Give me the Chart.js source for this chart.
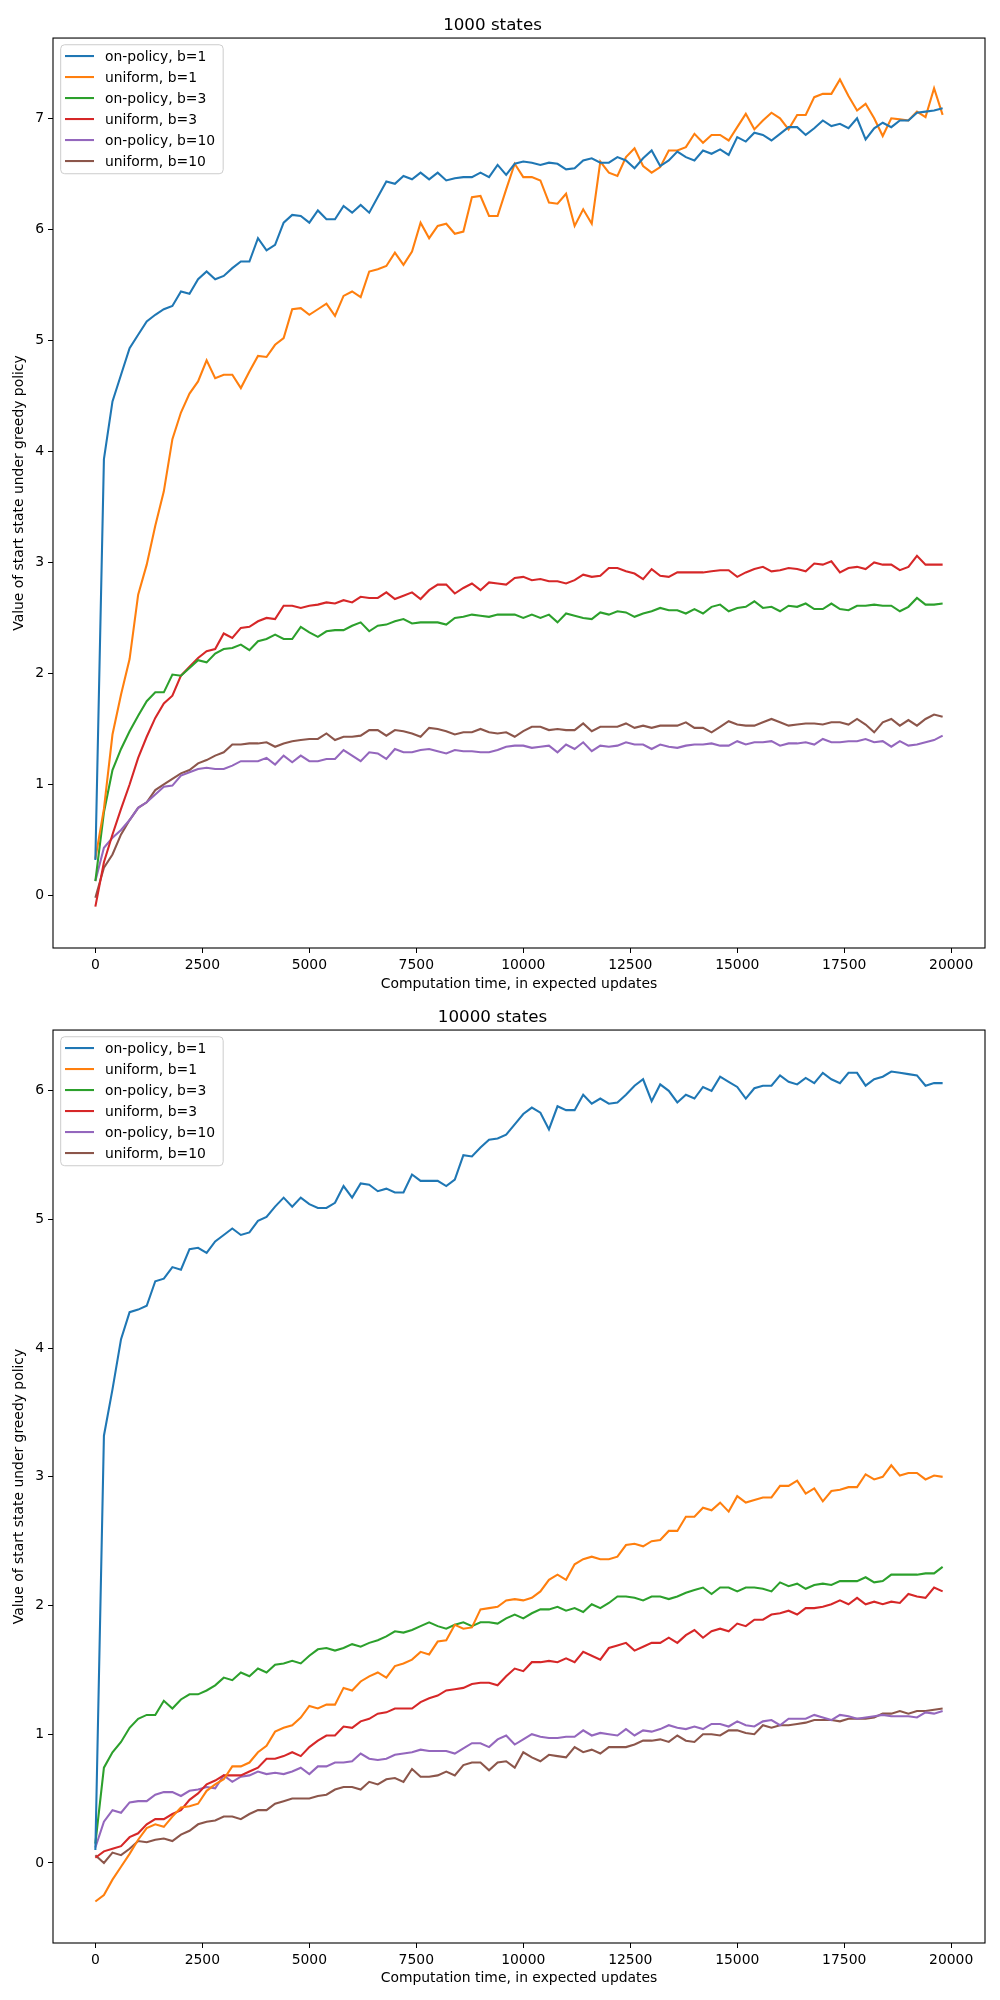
<!DOCTYPE html>
<html>
<head>
<meta charset="utf-8">
<script src="https://cdn.jsdelivr.net/npm/chart.js@4.4.1/dist/chart.umd.min.js"></script>
<style>
  body { margin: 0; background: #fff; }
  canvas { display: block; }
</style>
</head>
<body>
<canvas id="states1000" width="1000" height="1000"></canvas>
<canvas id="states10000" width="1000" height="1000"></canvas>
<script>
// x values: computation time, in expected updates
const updates = [0, 200, 400, 600, 800, 1000, 1200, 1400, 1600, 1800, 2000, 2200, 2400, 2600, 2800, 3000, 3200, 3400, 3600, 3800,
  4000, 4200, 4400, 4600, 4800, 5000, 5200, 5400, 5600, 5800, 6000, 6200, 6400, 6600, 6800, 7000, 7200, 7400, 7600, 7800,
  8000, 8200, 8400, 8600, 8800, 9000, 9200, 9400, 9600, 9800, 10000, 10200, 10400, 10600, 10800, 11000, 11200, 11400, 11600, 11800,
  12000, 12200, 12400, 12600, 12800, 13000, 13200, 13400, 13600, 13800, 14000, 14200, 14400, 14600, 14800, 15000, 15200, 15400, 15600, 15800,
  16000, 16200, 16400, 16600, 16800, 17000, 17200, 17400, 17600, 17800, 18000, 18200, 18400, 18600, 18800, 19000, 19200, 19400, 19600, 19800];

const xTicks = [0, 2500, 5000, 7500, 10000, 12500, 15000, 17500, 20000];
const yTicks1000 = [0, 1, 2, 3, 4, 5, 6, 7];
const yTicks10000 = [0, 1, 2, 3, 4, 5, 6];

const seriesLabels = ['on-policy, b=1', 'uniform, b=1', 'on-policy, b=3', 'uniform, b=3', 'on-policy, b=10', 'uniform, b=10'];
const seriesColors = ['#1f77b4', '#ff7f0e', '#2ca02c', '#d62728', '#9467bd', '#8c564b'];

// 1000 states
const onPolicyB1_1000 = [0.32, 3.93, 4.45, 4.69, 4.93, 5.05, 5.17, 5.23, 5.28, 5.31, 5.44, 5.42, 5.55, 5.62, 5.55, 5.58, 5.65, 5.71, 5.71, 5.92,
  5.81, 5.86, 6.06, 6.13, 6.12, 6.06, 6.17, 6.09, 6.09, 6.21, 6.15, 6.22, 6.15, 6.29, 6.43, 6.41, 6.48, 6.45, 6.51, 6.45,
  6.51, 6.44, 6.46, 6.47, 6.47, 6.51, 6.47, 6.58, 6.49, 6.59, 6.61, 6.60, 6.58, 6.60, 6.59, 6.54, 6.55, 6.62, 6.64, 6.60,
  6.60, 6.65, 6.62, 6.55, 6.64, 6.71, 6.57, 6.62, 6.70, 6.65, 6.62, 6.71, 6.68, 6.72, 6.67, 6.83, 6.79, 6.87, 6.85, 6.80,
  6.86, 6.92, 6.92, 6.85, 6.91, 6.98, 6.93, 6.95, 6.91, 7.00, 6.81, 6.91, 6.96, 6.92, 6.98, 6.98, 7.05, 7.06, 7.07, 7.09];
const uniformB1_1000 = [0.33, 0.78, 1.45, 1.81, 2.13, 2.71, 2.98, 3.33, 3.64, 4.11, 4.35, 4.52, 4.63, 4.82, 4.66, 4.69, 4.69, 4.57, 4.72, 4.86,
  4.85, 4.96, 5.02, 5.28, 5.29, 5.23, 5.28, 5.33, 5.22, 5.40, 5.44, 5.39, 5.62, 5.64, 5.67, 5.79, 5.68, 5.80, 6.06, 5.92,
  6.03, 6.05, 5.96, 5.98, 6.29, 6.30, 6.12, 6.12, 6.36, 6.59, 6.47, 6.47, 6.44, 6.24, 6.23, 6.32, 6.03, 6.18, 6.05, 6.61,
  6.51, 6.48, 6.65, 6.73, 6.57, 6.51, 6.56, 6.71, 6.71, 6.74, 6.86, 6.78, 6.85, 6.85, 6.80, 6.92, 7.04, 6.90, 6.98, 7.05,
  7.00, 6.90, 7.03, 7.03, 7.19, 7.22, 7.22, 7.35, 7.20, 7.07, 7.13, 7.00, 6.84, 7.00, 6.99, 6.98, 7.06, 7.01, 7.27, 7.03];
const onPolicyB3_1000 = [0.13, 0.75, 1.13, 1.32, 1.48, 1.62, 1.75, 1.83, 1.83, 1.99, 1.98, 2.05, 2.12, 2.10, 2.18, 2.22, 2.23, 2.26, 2.21, 2.29,
  2.31, 2.35, 2.31, 2.31, 2.42, 2.37, 2.33, 2.38, 2.39, 2.39, 2.43, 2.46, 2.38, 2.43, 2.44, 2.47, 2.49, 2.45, 2.46, 2.46,
  2.46, 2.44, 2.50, 2.51, 2.53, 2.52, 2.51, 2.53, 2.53, 2.53, 2.50, 2.53, 2.50, 2.53, 2.46, 2.54, 2.52, 2.50, 2.49, 2.55,
  2.53, 2.56, 2.55, 2.51, 2.54, 2.56, 2.59, 2.57, 2.57, 2.54, 2.58, 2.54, 2.60, 2.62, 2.56, 2.59, 2.60, 2.65, 2.59, 2.60,
  2.56, 2.61, 2.60, 2.63, 2.58, 2.58, 2.63, 2.58, 2.57, 2.61, 2.61, 2.62, 2.61, 2.61, 2.56, 2.60, 2.68, 2.62, 2.62, 2.63];
const uniformB3_1000 = [-0.10, 0.30, 0.55, 0.78, 1.00, 1.24, 1.43, 1.60, 1.73, 1.80, 1.98, 2.06, 2.14, 2.20, 2.22, 2.36, 2.32, 2.41, 2.42, 2.47,
  2.50, 2.49, 2.61, 2.61, 2.59, 2.61, 2.62, 2.64, 2.63, 2.66, 2.64, 2.69, 2.68, 2.68, 2.73, 2.67, 2.70, 2.73, 2.67, 2.75,
  2.80, 2.80, 2.72, 2.77, 2.81, 2.75, 2.82, 2.81, 2.80, 2.86, 2.87, 2.84, 2.85, 2.83, 2.83, 2.81, 2.84, 2.89, 2.87, 2.88,
  2.95, 2.95, 2.92, 2.90, 2.85, 2.94, 2.88, 2.87, 2.91, 2.91, 2.91, 2.91, 2.92, 2.93, 2.93, 2.87, 2.91, 2.94, 2.96, 2.92,
  2.93, 2.95, 2.94, 2.92, 2.99, 2.98, 3.01, 2.91, 2.95, 2.96, 2.94, 3.00, 2.98, 2.98, 2.93, 2.96, 3.06, 2.98, 2.98, 2.98];
const onPolicyB10_1000 = [0.13, 0.43, 0.52, 0.59, 0.68, 0.79, 0.84, 0.91, 0.98, 0.99, 1.08, 1.11, 1.14, 1.15, 1.14, 1.14, 1.17, 1.21, 1.21, 1.21,
  1.24, 1.18, 1.26, 1.20, 1.26, 1.21, 1.21, 1.23, 1.23, 1.31, 1.26, 1.21, 1.29, 1.28, 1.23, 1.32, 1.29, 1.29, 1.31, 1.32,
  1.30, 1.28, 1.31, 1.30, 1.30, 1.29, 1.29, 1.31, 1.34, 1.35, 1.35, 1.33, 1.34, 1.35, 1.29, 1.36, 1.32, 1.38, 1.30, 1.35,
  1.34, 1.35, 1.38, 1.36, 1.36, 1.32, 1.36, 1.34, 1.33, 1.35, 1.36, 1.36, 1.37, 1.35, 1.35, 1.39, 1.36, 1.38, 1.38, 1.39,
  1.35, 1.37, 1.37, 1.38, 1.36, 1.41, 1.38, 1.38, 1.39, 1.39, 1.41, 1.38, 1.39, 1.34, 1.39, 1.35, 1.36, 1.38, 1.40, 1.44];
const uniformB10_1000 = [-0.02, 0.25, 0.37, 0.55, 0.68, 0.79, 0.84, 0.95, 1.00, 1.05, 1.10, 1.13, 1.19, 1.22, 1.26, 1.29, 1.36, 1.36, 1.37, 1.37,
  1.38, 1.34, 1.37, 1.39, 1.40, 1.41, 1.41, 1.46, 1.40, 1.43, 1.43, 1.44, 1.49, 1.49, 1.44, 1.49, 1.48, 1.46, 1.43, 1.51,
  1.50, 1.48, 1.45, 1.47, 1.47, 1.50, 1.47, 1.46, 1.47, 1.43, 1.48, 1.52, 1.52, 1.49, 1.50, 1.49, 1.49, 1.55, 1.48, 1.52,
  1.52, 1.52, 1.55, 1.51, 1.53, 1.51, 1.53, 1.53, 1.53, 1.56, 1.51, 1.51, 1.47, 1.52, 1.57, 1.54, 1.53, 1.53, 1.56, 1.59,
  1.56, 1.53, 1.54, 1.55, 1.55, 1.54, 1.56, 1.56, 1.54, 1.59, 1.54, 1.47, 1.56, 1.59, 1.53, 1.58, 1.53, 1.59, 1.63, 1.61];

// 10000 states
const onPolicyB1_10000 = [0.10, 3.32, 3.68, 4.07, 4.28, 4.30, 4.33, 4.52, 4.54, 4.63, 4.61, 4.77, 4.78, 4.74, 4.83, 4.88, 4.93, 4.88, 4.90, 4.99,
  5.02, 5.10, 5.17, 5.10, 5.17, 5.12, 5.09, 5.09, 5.13, 5.26, 5.17, 5.28, 5.27, 5.22, 5.24, 5.21, 5.21, 5.35, 5.30, 5.30,
  5.30, 5.26, 5.31, 5.50, 5.49, 5.56, 5.62, 5.63, 5.66, 5.74, 5.82, 5.87, 5.83, 5.70, 5.88, 5.85, 5.85, 5.97, 5.90, 5.94,
  5.90, 5.91, 5.97, 6.04, 6.09, 5.92, 6.05, 6.00, 5.91, 5.97, 5.94, 6.03, 6.00, 6.11, 6.07, 6.03, 5.94, 6.02, 6.04, 6.04,
  6.12, 6.07, 6.05, 6.10, 6.06, 6.14, 6.09, 6.06, 6.14, 6.14, 6.04, 6.09, 6.11, 6.15, 6.14, 6.13, 6.12, 6.04, 6.06, 6.06];
const uniformB1_10000 = [-0.30, -0.25, -0.13, -0.03, 0.07, 0.18, 0.27, 0.30, 0.28, 0.36, 0.43, 0.44, 0.46, 0.56, 0.61, 0.65, 0.75, 0.75, 0.78, 0.86,
  0.91, 1.02, 1.05, 1.07, 1.13, 1.22, 1.20, 1.23, 1.23, 1.36, 1.34, 1.41, 1.45, 1.48, 1.44, 1.53, 1.55, 1.58, 1.64, 1.62,
  1.72, 1.73, 1.85, 1.82, 1.83, 1.97, 1.98, 1.99, 2.04, 2.05, 2.04, 2.06, 2.11, 2.20, 2.24, 2.20, 2.32, 2.36, 2.38, 2.36,
  2.36, 2.38, 2.47, 2.48, 2.46, 2.50, 2.51, 2.58, 2.58, 2.69, 2.69, 2.76, 2.74, 2.80, 2.73, 2.85, 2.80, 2.82, 2.84, 2.84,
  2.93, 2.93, 2.97, 2.87, 2.91, 2.81, 2.89, 2.90, 2.92, 2.92, 3.02, 2.98, 3.00, 3.09, 3.01, 3.03, 3.03, 2.98, 3.01, 3.00];
const onPolicyB3_10000 = [0.15, 0.74, 0.86, 0.94, 1.05, 1.12, 1.15, 1.15, 1.26, 1.20, 1.27, 1.31, 1.31, 1.34, 1.38, 1.44, 1.42, 1.48, 1.45, 1.51,
  1.48, 1.54, 1.55, 1.57, 1.55, 1.61, 1.66, 1.67, 1.65, 1.67, 1.70, 1.68, 1.71, 1.73, 1.76, 1.80, 1.79, 1.81, 1.84, 1.87,
  1.84, 1.82, 1.85, 1.87, 1.84, 1.87, 1.87, 1.86, 1.90, 1.93, 1.90, 1.94, 1.97, 1.97, 1.99, 1.96, 1.98, 1.95, 2.01, 1.98,
  2.02, 2.07, 2.07, 2.06, 2.04, 2.07, 2.07, 2.05, 2.07, 2.10, 2.12, 2.14, 2.09, 2.14, 2.14, 2.11, 2.14, 2.14, 2.13, 2.11,
  2.18, 2.15, 2.17, 2.13, 2.16, 2.17, 2.16, 2.19, 2.19, 2.19, 2.22, 2.18, 2.19, 2.24, 2.24, 2.24, 2.24, 2.25, 2.25, 2.30];
const uniformB3_10000 = [0.04, 0.09, 0.11, 0.13, 0.20, 0.23, 0.30, 0.34, 0.34, 0.38, 0.41, 0.49, 0.54, 0.61, 0.64, 0.68, 0.68, 0.68, 0.71, 0.74,
  0.81, 0.81, 0.83, 0.86, 0.83, 0.90, 0.95, 0.99, 0.99, 1.06, 1.05, 1.10, 1.12, 1.16, 1.17, 1.20, 1.20, 1.20, 1.25, 1.28,
  1.30, 1.34, 1.35, 1.36, 1.39, 1.40, 1.40, 1.38, 1.45, 1.51, 1.49, 1.56, 1.56, 1.57, 1.56, 1.59, 1.56, 1.64, 1.61, 1.58,
  1.67, 1.69, 1.71, 1.65, 1.68, 1.71, 1.71, 1.75, 1.71, 1.77, 1.81, 1.75, 1.80, 1.82, 1.80, 1.86, 1.84, 1.89, 1.89, 1.93,
  1.94, 1.96, 1.93, 1.98, 1.98, 1.99, 2.01, 2.04, 2.01, 2.06, 2.01, 2.03, 2.01, 2.03, 2.02, 2.09, 2.07, 2.06, 2.14, 2.11];
const onPolicyB10_10000 = [0.12, 0.32, 0.41, 0.39, 0.47, 0.48, 0.48, 0.53, 0.55, 0.55, 0.52, 0.56, 0.57, 0.59, 0.58, 0.68, 0.63, 0.67, 0.68, 0.71,
  0.69, 0.70, 0.69, 0.71, 0.74, 0.69, 0.75, 0.75, 0.78, 0.78, 0.79, 0.85, 0.81, 0.80, 0.81, 0.84, 0.85, 0.86, 0.88, 0.87,
  0.87, 0.87, 0.85, 0.89, 0.93, 0.93, 0.90, 0.96, 0.99, 0.92, 0.96, 1.00, 0.98, 0.97, 0.97, 0.98, 0.98, 1.03, 0.99, 1.01,
  1.00, 0.99, 1.04, 0.99, 1.03, 1.02, 1.04, 1.07, 1.05, 1.04, 1.06, 1.04, 1.08, 1.08, 1.06, 1.10, 1.07, 1.06, 1.10, 1.11,
  1.07, 1.12, 1.12, 1.12, 1.15, 1.13, 1.11, 1.15, 1.14, 1.12, 1.13, 1.14, 1.15, 1.14, 1.14, 1.14, 1.13, 1.17, 1.16, 1.18];
const uniformB10_10000 = [0.06, 0.00, 0.08, 0.06, 0.11, 0.17, 0.16, 0.18, 0.19, 0.17, 0.22, 0.25, 0.30, 0.32, 0.33, 0.36, 0.36, 0.34, 0.38, 0.41,
  0.41, 0.46, 0.48, 0.50, 0.50, 0.50, 0.52, 0.53, 0.57, 0.59, 0.59, 0.57, 0.63, 0.61, 0.65, 0.66, 0.63, 0.73, 0.67, 0.67,
  0.68, 0.71, 0.68, 0.76, 0.78, 0.78, 0.72, 0.78, 0.79, 0.74, 0.86, 0.82, 0.79, 0.84, 0.83, 0.82, 0.90, 0.86, 0.88, 0.85,
  0.90, 0.90, 0.90, 0.92, 0.95, 0.95, 0.96, 0.94, 0.99, 0.95, 0.94, 1.00, 1.00, 0.99, 1.03, 1.03, 1.01, 1.00, 1.07, 1.05,
  1.07, 1.07, 1.08, 1.09, 1.11, 1.11, 1.11, 1.10, 1.12, 1.12, 1.12, 1.13, 1.16, 1.16, 1.18, 1.16, 1.18, 1.18, 1.19, 1.20];

const FONT = 'DejaVu Sans';

// full box around the plot area, like matplotlib spines
const framePlugin = {
  id: 'frame',
  afterDatasetsDraw(chart) {
    const { ctx, chartArea: a } = chart;
    ctx.save();
    ctx.strokeStyle = '#000';
    ctx.lineWidth = 1.1;
    ctx.strokeRect(a.left, a.top, a.right - a.left, a.bottom - a.top);
    ctx.restore();
  }
};

// matplotlib-style legend box in the upper left corner
const boxLegendPlugin = {
  id: 'boxLegend',
  afterDraw(chart) {
    const { ctx, chartArea: a } = chart;
    const sets = chart.data.datasets;
    ctx.save();
    ctx.font = '13.9px "' + FONT + '"';
    const textW = Math.max(...sets.map(d => ctx.measureText(d.label).width));
    const bx = a.left + 7.7, by = a.top + 6.7;
    const bw = 52 - 7.7 + textW + 8, bh = 129;
    ctx.beginPath();
    ctx.roundRect(bx, by, bw, bh, 4);
    ctx.fillStyle = 'rgba(255,255,255,0.8)';
    ctx.fill();
    ctx.strokeStyle = '#cccccc';
    ctx.lineWidth = 1;
    ctx.stroke();
    sets.forEach((d, k) => {
      const y = a.top + 18 + 21 * k;
      ctx.strokeStyle = d.borderColor;
      ctx.lineWidth = 2.08;
      ctx.beginPath();
      ctx.moveTo(a.left + 12, y);
      ctx.lineTo(a.left + 41, y);
      ctx.stroke();
      ctx.fillStyle = '#000';
      ctx.textBaseline = 'middle';
      ctx.fillText(d.label, a.left + 52, y + 1);
    });
    ctx.restore();
  }
};

function makeChart(id, title, seriesList, yTicks, titlePadTop, xAxisHeight, xTitlePadBottom) {
  const all = seriesList.flat();
  const lo = Math.min(...all), hi = Math.max(...all);
  const yPad = (hi - lo) * 0.05;
  const xPad = (updates[updates.length - 1] - updates[0]) * 0.05;

  return new Chart(document.getElementById(id), {
    type: 'line',
    data: {
      datasets: seriesList.map((s, k) => ({
        label: seriesLabels[k],
        data: updates.map((x, i) => ({ x: x, y: s[i] })),
        borderColor: seriesColors[k],
        backgroundColor: seriesColors[k],
        borderWidth: 2.08,
        pointRadius: 0,
        tension: 0,
        fill: false
      }))
    },
    options: {
      responsive: false,
      animation: false,
      devicePixelRatio: 1,
      layout: { padding: { left: 0, right: 15, top: 0, bottom: 0 } },
      plugins: {
        legend: { display: false },
        tooltip: { enabled: false },
        title: {
          display: true,
          text: title,
          color: '#000',
          font: { family: FONT, size: 16.7, weight: 'normal' },
          padding: { top: titlePadTop, bottom: 2.5 }
        }
      },
      scales: {
        x: {
          type: 'linear',
          min: updates[0] - xPad,
          max: updates[updates.length - 1] + xPad,
          afterBuildTicks: s => { s.ticks = xTicks.map(v => ({ value: v })); },
          afterFit: s => { s.height = xAxisHeight; },
          border: { display: false },
          grid: { display: true, drawOnChartArea: false, drawTicks: true, tickLength: 5, color: '#000', lineWidth: 1 },
          ticks: { color: '#000', font: { family: FONT, size: 13.9 }, padding: 4, maxRotation: 0, autoSkip: false, callback: v => String(v) },
          title: {
            display: true,
            text: 'Computation time, in expected updates',
            color: '#000',
            font: { family: FONT, size: 13.9 },
            padding: { top: 0, bottom: xTitlePadBottom }
          }
        },
        y: {
          type: 'linear',
          min: lo - yPad,
          max: hi + yPad,
          afterBuildTicks: s => { s.ticks = yTicks.map(v => ({ value: v })); },
          afterFit: s => { s.width = 53; },
          border: { display: false },
          grid: { display: true, drawOnChartArea: false, drawTicks: true, tickLength: 5, color: '#000', lineWidth: 1 },
          ticks: { color: '#000', font: { family: FONT, size: 13.9 }, padding: 4, callback: v => String(v) },
          title: {
            display: true,
            text: 'Value of start state under greedy policy',
            color: '#000',
            font: { family: FONT, size: 13.9 },
            padding: { top: 11.5, bottom: 0 }
          }
        }
      }
    },
    plugins: [framePlugin, boxLegendPlugin]
  });
}

makeChart('states1000', '1000 states',
  [onPolicyB1_1000, uniformB1_1000, onPolicyB3_1000, uniformB3_1000, onPolicyB10_1000, uniformB10_1000],
  yTicks1000, 15.5, 52, 7.5);

makeChart('states10000', '10000 states',
  [onPolicyB1_10000, uniformB1_10000, onPolicyB3_10000, uniformB3_10000, onPolicyB10_10000, uniformB10_10000],
  yTicks10000, 7.5, 57, 13.5);
</script>
</body>
</html>
